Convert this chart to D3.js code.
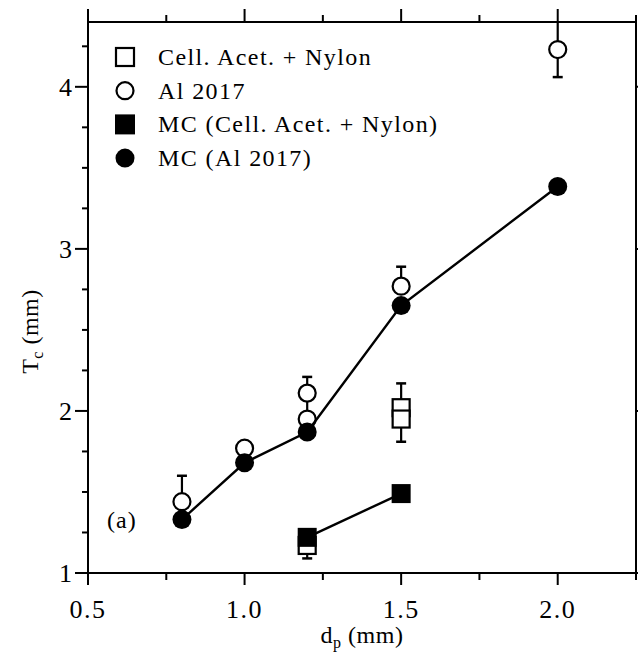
<!DOCTYPE html>
<html>
<head>
<meta charset="utf-8">
<script src="https://cdn.jsdelivr.net/npm/d3@7"></script>
<style>
  html, body { margin: 0; padding: 0; background: #fff; }
  svg { display: block; }
  text { font-family: "Liberation Serif", "Times New Roman", serif; fill: #000; }
</style>
</head>
<body>
<svg id="chart" width="638" height="657"></svg>
<script>
// Tick values
const xMajorTicks = [0.5, 1.0, 1.5, 2.0];
const xMinorTicks = [0.75, 1.25, 1.75, 2.25];
const yMajorTicks = [1, 2, 3, 4];
const yMinorTicks = [1.25, 1.5, 1.75, 2.25, 2.5, 2.75, 3.25, 3.5, 3.75, 4.25];

// Measured: Al 2017 (open circles) with error bar limits
const alX  = [0.8, 1.0, 1.2, 1.2, 1.5, 2.0];
const alY  = [1.44, 1.77, 1.95, 2.11, 2.77, 4.23];
const alLo = [1.44, 1.77, 1.95, 1.95, 2.77, 4.06];
const alHi = [1.60, 1.77, 1.95, 2.21, 2.89, 4.40];

// Measured: Cell. Acet. + Nylon (open squares)
const cellX  = [1.2, 1.5, 1.5];
const cellY  = [1.17, 2.02, 1.95];
const cellLo = [1.09, 2.02, 1.81];
const cellHi = [1.17, 2.17, 1.95];

// Monte Carlo: Al 2017 (filled circles, joined)
const mcAlX = [0.8, 1.0, 1.2, 1.5, 2.0];
const mcAlY = [1.33, 1.68, 1.87, 2.65, 3.385];

// Monte Carlo: Cell. Acet. + Nylon (filled squares, joined)
const mcCellX = [1.2, 1.5];
const mcCellY = [1.22, 1.49];

const legendLabels = ["Cell. Acet. + Nylon", "Al 2017", "MC (Cell. Acet. + Nylon)", "MC (Al 2017)"];

const svg = d3.select("#chart");
const L = 88, R = 636, T = 22, B = 573;

const x = d3.scaleLinear().domain([0.5, 2.25]).range([L, R]);
const y = d3.scaleLinear().domain([1, 4.4]).range([B, T]);

const SW = 2;
const g = svg.append("g").attr("stroke", "#000").attr("stroke-width", SW);

// Frame
g.append("rect").attr("x", L).attr("y", T).attr("width", R - L).attr("height", B - T).attr("fill", "none");

// Outward ticks on all four sides
function vTicks(vals, y0, len) {
  g.selectAll(null).data(vals).join("line")
    .attr("x1", d => x(d)).attr("x2", d => x(d)).attr("y1", y0).attr("y2", y0 + len);
}
function hTicks(vals, x0, len) {
  g.selectAll(null).data(vals).join("line")
    .attr("y1", d => y(d)).attr("y2", d => y(d)).attr("x1", x0).attr("x2", x0 + len);
}
vTicks(xMajorTicks, B, 12);
vTicks(xMinorTicks, B, 7);
vTicks(xMajorTicks, T, -13);
vTicks(xMinorTicks, T, -7);
hTicks(yMajorTicks, L, -13);
hTicks(yMinorTicks, L, -6);
hTicks(yMajorTicks, R, 13);

// Tick labels
const fmtX = d3.format(".1f");
svg.selectAll(null).data(xMajorTicks).join("text")
  .attr("x", d => x(d)).attr("y", B + 45).attr("text-anchor", "middle")
  .attr("font-size", 26).attr("letter-spacing", 1.5).text(d => fmtX(d));
svg.selectAll(null).data(yMajorTicks).join("text")
  .attr("x", L - 16).attr("y", d => y(d) + 9).attr("text-anchor", "end")
  .attr("font-size", 26).text(d => d);

// Axis titles
const xTitle = svg.append("text").attr("x", x(1.375)).attr("y", 643)
  .attr("text-anchor", "middle").attr("font-size", 24).attr("letter-spacing", 0.5);
xTitle.append("tspan").text("d");
xTitle.append("tspan").attr("font-size", 16).attr("dy", 5).text("p");
xTitle.append("tspan").attr("dy", -5).text(" (mm)");

const yTitle = svg.append("text")
  .attr("transform", `translate(38,${y(2.49)}) rotate(-90)`)
  .attr("text-anchor", "middle").attr("font-size", 24).attr("letter-spacing", 0.5);
yTitle.append("tspan").text("T");
yTitle.append("tspan").attr("font-size", 16).attr("dy", 5).text("c");
yTitle.append("tspan").attr("dy", -5).text(" (mm)");

// Panel label
svg.append("text").attr("x", 107).attr("y", 528).attr("font-size", 24).attr("letter-spacing", 1).text("(a)");

const plot = svg.append("g");
const R_C = 9.5, S_Q = 17, CAP = 5, LW = 2.2;

function bars(xs, ys, los, his) {
  xs.forEach((xv, i) => {
    const cx = x(xv);
    if (his[i] > ys[i]) {
      plot.append("line").attr("x1", cx).attr("x2", cx).attr("y1", y(ys[i])).attr("y2", y(his[i]))
        .attr("stroke", "#000").attr("stroke-width", LW);
      if (his[i] < 4.4)
        plot.append("line").attr("x1", cx - CAP).attr("x2", cx + CAP).attr("y1", y(his[i])).attr("y2", y(his[i]))
          .attr("stroke", "#000").attr("stroke-width", 2.5);
    }
    if (los[i] < ys[i]) {
      plot.append("line").attr("x1", cx).attr("x2", cx).attr("y1", y(ys[i])).attr("y2", y(los[i]))
        .attr("stroke", "#000").attr("stroke-width", LW);
      plot.append("line").attr("x1", cx - CAP).attr("x2", cx + CAP).attr("y1", y(los[i])).attr("y2", y(los[i]))
        .attr("stroke", "#000").attr("stroke-width", 2.5);
    }
  });
}

// Measured points with error bars
bars(alX, alY, alLo, alHi);
bars(cellX, cellY, cellLo, cellHi);

alX.forEach((xv, i) => {
  plot.append("circle").attr("cx", x(xv)).attr("cy", y(alY[i])).attr("r", R_C - 1)
    .attr("fill", "#fff").attr("stroke", "#000").attr("stroke-width", 2.2);
});
cellX.forEach((xv, i) => {
  plot.append("rect").attr("x", x(xv) - S_Q / 2).attr("y", y(cellY[i]) - S_Q / 2)
    .attr("width", S_Q).attr("height", S_Q)
    .attr("fill", "#fff").attr("stroke", "#000").attr("stroke-width", 2.2);
});

// Monte Carlo lines and markers
const line = d3.line().x(d => x(d[0])).y(d => y(d[1]));
plot.append("path").datum(d3.zip(mcAlX, mcAlY)).attr("d", line)
  .attr("fill", "none").attr("stroke", "#000").attr("stroke-width", 2.4);
plot.append("path").datum(d3.zip(mcCellX, mcCellY)).attr("d", line)
  .attr("fill", "none").attr("stroke", "#000").attr("stroke-width", 2.4);

mcAlX.forEach((xv, i) => {
  plot.append("circle").attr("cx", x(xv)).attr("cy", y(mcAlY[i])).attr("r", R_C).attr("fill", "#000");
});
mcCellX.forEach((xv, i) => {
  plot.append("rect").attr("x", x(xv) - (S_Q + 2) / 2).attr("y", y(mcCellY[i]) - (S_Q + 2) / 2)
    .attr("width", S_Q + 2).attr("height", S_Q + 2).attr("fill", "#000");
});

// Legend
const legX = 125, legY0 = 57, legDY = 33.7;
const leg = svg.append("g");
legendLabels.forEach((lab, i) => {
  const cy = legY0 + i * legDY;
  if (i === 0) leg.append("rect").attr("x", legX - 9).attr("y", cy - 9).attr("width", 18).attr("height", 18)
    .attr("fill", "#fff").attr("stroke", "#000").attr("stroke-width", 2.2);
  if (i === 1) leg.append("circle").attr("cx", legX).attr("cy", cy).attr("r", 8.5)
    .attr("fill", "#fff").attr("stroke", "#000").attr("stroke-width", 2.2);
  if (i === 2) leg.append("rect").attr("x", legX - 10).attr("y", cy - 10).attr("width", 20).attr("height", 20).attr("fill", "#000");
  if (i === 3) leg.append("circle").attr("cx", legX).attr("cy", cy).attr("r", 9.5).attr("fill", "#000");
  leg.append("text").attr("x", 158).attr("y", cy + 8).attr("font-size", 24).attr("letter-spacing", 1.4).text(lab);
});
</script>
</body>
</html>
